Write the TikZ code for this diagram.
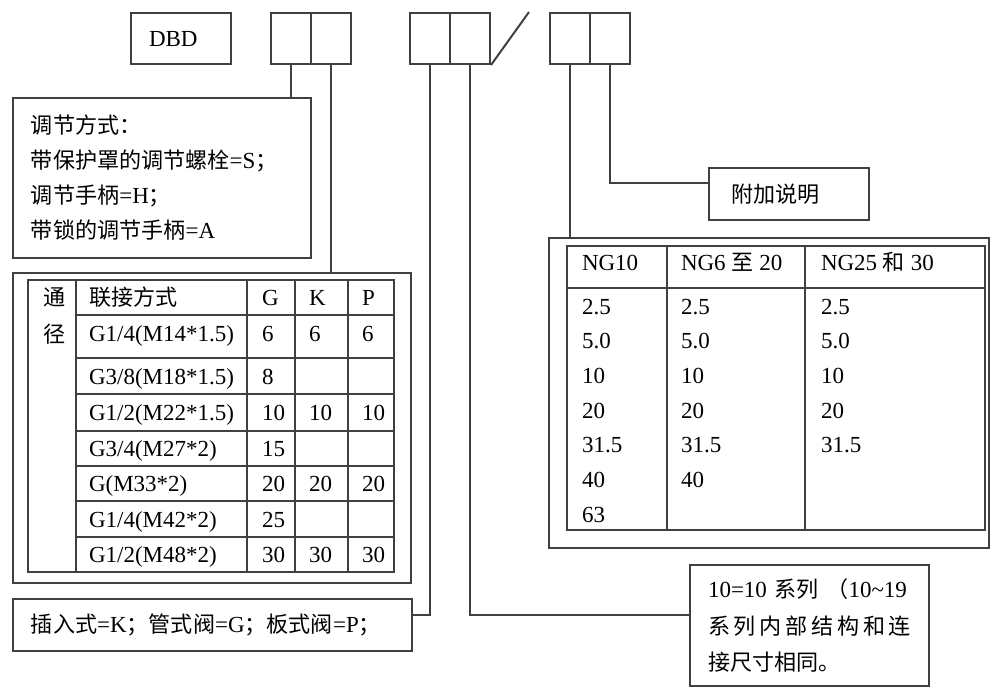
\documentclass[tikz,border=0pt]{standalone}
\usepackage{fontspec}
\setmainfont{Liberation Serif}
\newfontfamily\cjkfont[Scale=0.96]{Noto Sans CJK SC}
\newcommand{\zw}[1]{{\cjkfont #1}}
\usetikzlibrary{positioning, calc}

\begin{document}
\begin{tikzpicture}[x=0.5pt,y=-0.5pt,draw=black!75,line width=1pt,font=\fontsize{11.5}{17.5}\selectfont]
	\useasboundingbox (0,0) rectangle (995,693);
	\def \rowcode{12}
	\def \rowturn{615}
	\def \rowbend{183}
	\def \rowhead{298}
	\def \ngrowhead{263}
	\tikzstyle{code-box}=[draw,rectangle,inner sep=0pt,minimum width=20pt,minimum height=25.5pt,anchor=north west]
	\tikzstyle{txt-box}=[draw,rectangle,inner xsep=9pt,inner ysep=0pt,align=left,anchor=north west]
	\tikzstyle{frame-box}=[draw,rectangle,inner sep=0pt,anchor=north west]
	\tikzstyle{cell}=[anchor=west,inner sep=0pt,text height=7.6pt,text depth=0pt]

	% model code
	\node[txt-box,text width=32pt,minimum height=25.5pt] (dbd) at (130,\rowcode) {DBD};
	\node[code-box] (c1a) at (270,\rowcode) {};
	\node[code-box] (c1b) at (310,\rowcode) {};
	\node[code-box] (c2a) at (409,\rowcode) {};
	\node[code-box] (c2b) at (449,\rowcode) {};
	\node[code-box] (c3a) at (549,\rowcode) {};
	\node[code-box] (c3b) at (589,\rowcode) {};
	\coordinate (slash) at (529,\rowcode);
	\draw (c2b.south east) -- (slash);

	% explanation boxes
	\node[txt-box,text width=131pt,minimum height=80pt] (adj) at (12,97)
		{\zw{调节方式：}\\ \zw{带保护罩的调节螺栓}=S\zw{；}\\ \zw{调节手柄}=H\zw{；}\\ \zw{带锁的调节手柄}=A};
	\node[frame-box,minimum width=199pt,minimum height=155pt] (conn) at (12,272) {};
	\node[txt-box,text width=181.5pt,minimum height=26pt] (type) at (12,598)
		{\zw{插入式}=K\zw{；管式阀}=G\zw{；板式阀}=P\zw{；}};
	\node[txt-box,text width=101.5pt,minimum height=60.5pt,font=\fontsize{11.5}{18.25}\selectfont] (note) at (689,564)
		{\makebox[101.5pt][s]{10=10 \zw{系列} \zw{（}10\textasciitilde19}\\
		 \makebox[101.5pt][s]{\zw{系\hfil 列\hfil 内\hfil 部\hfil 结\hfil 构\hfil 和\hfil 连}}\\
		 \zw{接尺寸相同。}};
	\node[txt-box,inner xsep=11pt,text width=58pt,minimum height=26pt] (extra) at (708,167) {\zw{附加说明}};
	\node[frame-box,minimum width=220pt,minimum height=155pt] (ngbox) at (548,237) {};

	% connectors
	\coordinate (turn) at (0,\rowturn);
	\coordinate (bend) at (0,\rowbend);
	\draw (c1a.south) -- (c1a.south |- adj.north);
	\draw (c1b.south) -- (c1b.south |- conn.north);
	\draw (c2a.south) |- (type.east |- turn);
	\draw (c2b.south) |- (note.west |- turn);
	\draw (c3a.south) -- (c3a.south |- ngbox.north);
	\draw (c3b.south) |- (extra.west |- bend);

	% connection table
	\draw (28,280) rectangle (394,572);
	\draw (76,280) -- (76,572) (247,280) -- (247,572) (295,280) -- (295,572) (348,280) -- (348,572);
	\draw (76,315) -- (394,315) (76,358) -- (394,358) (76,394) -- (394,394) (76,431) -- (394,431)
		(76,466) -- (394,466) (76,501) -- (394,501) (76,537) -- (394,537);
	\node[cell] (dn0) at (42,\rowhead) {\zw{通}};
	\node[cell] (dn1) at (42,335) {\zw{径}};
	\node[cell] (hd0) at (88,\rowhead) {\zw{联接方式}};
	\node[cell] (hdg) at (261,\rowhead) {G};
	\node[cell] (hdk) at (308,\rowhead) {K};
	\node[cell] (hdp) at (361,\rowhead) {P};
	\node[cell] (th1) at (88,334) {G1/4(M14*1.5)};
	\node[cell] (g1)  at (261,334) {6};
	\node[cell] (k1)  at (308,334) {6};
	\node[cell] (p1)  at (361,334) {6};
	\node[cell] (th2) at (88,377) {G3/8(M18*1.5)};
	\node[cell] (g2)  at (261,377) {8};
	\node[cell] (th3) at (88,413) {G1/2(M22*1.5)};
	\node[cell] (g3)  at (261,413) {10};
	\node[cell] (k3)  at (308,413) {10};
	\node[cell] (p3)  at (361,413) {10};
	\node[cell] (th4) at (88,449) {G3/4(M27*2)};
	\node[cell] (g4)  at (261,449) {15};
	\node[cell] (th5) at (88,484) {G(M33*2)};
	\node[cell] (g5)  at (261,484) {20};
	\node[cell] (k5)  at (308,484) {20};
	\node[cell] (p5)  at (361,484) {20};
	\node[cell] (th6) at (88,520) {G1/4(M42*2)};
	\node[cell] (g6)  at (261,520) {25};
	\node[cell] (th7) at (88,555) {G1/2(M48*2)};
	\node[cell] (g7)  at (261,555) {30};
	\node[cell] (k7)  at (308,555) {30};
	\node[cell] (p7)  at (361,555) {30};

	% pressure table
	\draw (567,246) rectangle (985,530);
	\draw (667,246) -- (667,530) (805,246) -- (805,530) (567,288) -- (985,288);
	\node[cell] (ng0) at (581,\ngrowhead) {NG10};
	\node[cell] (ng1) at (680,\ngrowhead) {NG6 \zw{至} 20};
	\node[cell] (ng2) at (820,\ngrowhead) {NG25 \zw{和} 30};
	\node[cell] (a1) at (581,307) {2.5};
	\node[cell] (a2) at (581,341) {5.0};
	\node[cell] (a3) at (581,376) {10};
	\node[cell] (a4) at (581,411) {20};
	\node[cell] (a5) at (581,445) {31.5};
	\node[cell] (a6) at (581,480) {40};
	\node[cell] (a7) at (581,515) {63};
	\node[cell] (b1) at (680,307) {2.5};
	\node[cell] (b2) at (680,341) {5.0};
	\node[cell] (b3) at (680,376) {10};
	\node[cell] (b4) at (680,411) {20};
	\node[cell] (b5) at (680,445) {31.5};
	\node[cell] (b6) at (680,480) {40};
	\node[cell] (e1) at (820,307) {2.5};
	\node[cell] (e2) at (820,341) {5.0};
	\node[cell] (e3) at (820,376) {10};
	\node[cell] (e4) at (820,411) {20};
	\node[cell] (e5) at (820,445) {31.5};
\end{tikzpicture}
\end{document}
